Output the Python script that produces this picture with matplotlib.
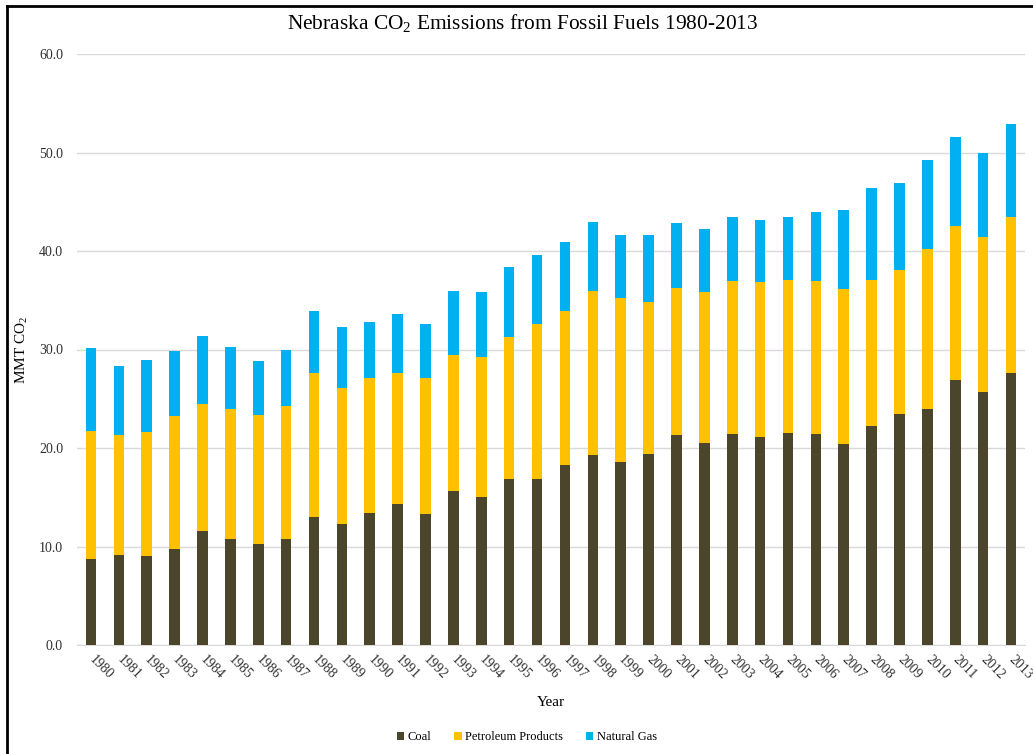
import matplotlib
matplotlib.use("Agg")
import matplotlib.pyplot as plt
from matplotlib.lines import Line2D
import numpy as np

plt.rcParams['font.family'] = ['Liberation Serif', 'DejaVu Serif']

years = [str(y) for y in range(1980, 2014)]
# cumulative tops read per year, converted to component values below
coal = [8.7, 9.1, 9.0, 9.7, 11.6, 10.8, 10.3, 10.8, 13.0, 12.3, 13.4, 14.3, 13.3, 15.6, 15.0, 16.9,
        16.9, 18.3, 19.3, 18.6, 19.4, 21.3, 20.5, 21.4, 21.1, 21.5, 21.4, 20.4, 22.2, 23.5, 24.0,
        26.9, 25.7, 27.6]
coal_petro = [21.7, 21.3, 21.6, 23.2, 24.5, 24.0, 23.3, 24.3, 27.6, 26.1, 27.1, 27.6, 27.1, 29.4,
              29.2, 31.3, 32.6, 33.9, 35.9, 35.2, 34.8, 36.2, 35.8, 37.0, 36.9, 37.1, 37.0, 36.1,
              37.1, 38.1, 40.2, 42.5, 41.4, 43.5]
total = [30.2, 28.3, 28.9, 29.8, 31.4, 30.3, 28.8, 30.0, 33.9, 32.3, 32.8, 33.6, 32.6, 35.9, 35.8,
         38.4, 39.6, 40.9, 42.9, 41.6, 41.6, 42.8, 42.2, 43.5, 43.1, 43.5, 44.0, 44.2, 46.4, 46.9,
         49.2, 51.6, 49.9, 52.9]

coal = np.array(coal)
petroleum = np.array(coal_petro) - coal
natural_gas = np.array(total) - np.array(coal_petro)

fig = plt.figure(figsize=(10.33, 7.54), dpi=100)
ax = fig.add_axes([77 / 1033, 109 / 754, 948 / 1033, 591 / 754])

x = np.arange(len(years))
w = 0.38
ax.bar(x, coal, w, color='#4a452b', label='Coal', zorder=3)
ax.bar(x, petroleum, w, bottom=coal, color='#ffc000', label='Petroleum Products', zorder=3)
ax.bar(x, natural_gas, w, bottom=coal + petroleum, color='#00b0f0', label='Natural Gas', zorder=3)

ax.set_xlim(-0.5, len(years) - 0.5)
ax.set_ylim(0, 60)
ax.set_yticks(np.arange(0, 61, 10))
ax.set_yticklabels([f'{v:.1f}' for v in np.arange(0, 61, 10)], fontsize=10, color='#303030')
ax.set_xticks(x)
ax.set_xticklabels(years, rotation=-45, ha='left', va='center', rotation_mode='anchor',
                   fontsize=10, color='#303030')
ax.tick_params(axis='both', length=0)
ax.tick_params(axis='x', pad=9)
ax.tick_params(axis='y', pad=10)
ax.grid(axis='y', color='#d9d9d9', linewidth=1, zorder=0)
for s in ['top', 'right', 'left']:
    ax.spines[s].set_visible(False)
ax.spines['bottom'].set_color('#d9d9d9')

ax.set_ylabel('MMT CO$\\mathregular{_2}$', fontsize=11)
ax.yaxis.set_label_coords(-0.05, 0.5)
ax.set_xlabel('Year', fontsize=11, labelpad=10)
fig.text(0.506, 0.97, 'Nebraska CO$\\mathregular{_2}$ Emissions from Fossil Fuels 1980-2013',
         ha='center', va='center', fontsize=15.4)

fig.legend(loc='center', bbox_to_anchor=(0.51, 0.022), ncol=3, frameon=False, fontsize=9,
           handlelength=0.6, handleheight=0.6, handletextpad=0.3, columnspacing=1.8)

# frame around the figure (left and top edges)
fig.add_artist(Line2D([7 / 1033, 7 / 1033], [-0.1, 1 - 6 / 754], transform=fig.transFigure,
                      color='black', linewidth=2))
fig.add_artist(Line2D([7 / 1033, 1.1], [1 - 6 / 754, 1 - 6 / 754], transform=fig.transFigure,
                      color='black', linewidth=2))

fig.savefig('out.png', dpi=100)
